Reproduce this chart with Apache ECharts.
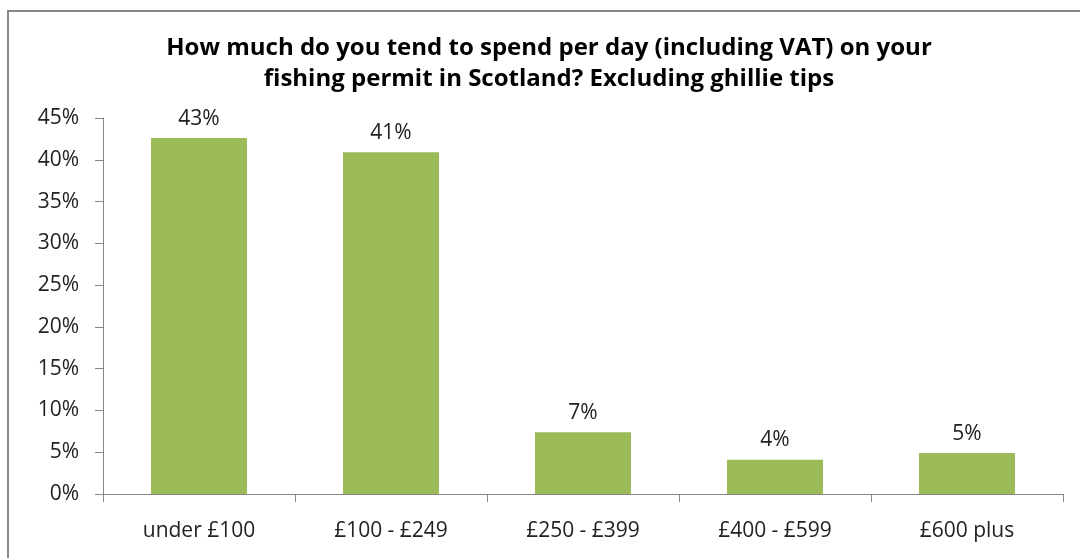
<!DOCTYPE html>
<html>
<head>
<meta charset="utf-8">
<script src="https://cdn.jsdelivr.net/npm/echarts@6/dist/echarts.min.js"></script>
<style>
  html, body { margin: 0; padding: 0; background: #ffffff; }
  #chart { width: 1080px; height: 558px; }
</style>
</head>
<body>
<div id="chart"></div>
<script>
// Daily permit spend bands and share of respondents (%)
const categories = ['under £100', '£100 - £249', '£250 - £399', '£400 - £599', '£600 plus'];
const shares = [42.6, 40.9, 7.4, 4.1, 4.9];
const titleLines = [
  'How much do you tend to spend per day (including VAT) on your',
  'fishing permit in Scotland? Excluding ghillie tips'
];

const FONT = '"Open Sans", Lato, sans-serif';
const AXIS_GREY = '#868686';

const chart = echarts.init(document.getElementById('chart'), null, { renderer: 'canvas' });

chart.setOption({
  animation: false,
  backgroundColor: '#ffffff',
  title: {
    text: titleLines.join('\n'),
    left: 544,
    top: 28,
    textAlign: 'center',
    textStyle: {
      fontFamily: FONT,
      fontSize: 24,
      fontWeight: 'bold',
      color: '#000000',
      lineHeight: 31
    }
  },
  graphic: [{
    type: 'rect',
    silent: true,
    shape: { x: 8, y: 11, width: 1100, height: 600 },
    style: { fill: 'none', stroke: AXIS_GREY, lineWidth: 2 }
  }],
  grid: { left: 103, top: 118, right: 17, bottom: 64 },
  xAxis: {
    type: 'category',
    data: categories,
    axisLine: { show: true, lineStyle: { color: AXIS_GREY, width: 1 } },
    axisTick: { show: true, alignWithLabel: false, length: 8, lineStyle: { color: AXIS_GREY } },
    axisLabel: { color: '#222222', fontFamily: FONT, fontSize: 21, margin: 27 },
    splitLine: { show: false }
  },
  yAxis: {
    type: 'value',
    min: 0,
    max: 45,
    interval: 5,
    axisLine: { show: true, lineStyle: { color: AXIS_GREY, width: 1 } },
    axisTick: { show: true, length: 8, lineStyle: { color: AXIS_GREY } },
    axisLabel: { color: '#222222', fontFamily: FONT, fontSize: 21, margin: 24, formatter: '{value}%' },
    splitLine: { show: false }
  },
  series: [{
    type: 'bar',
    data: shares,
    barWidth: '50%',
    itemStyle: { color: '#9BBB59' },
    label: {
      show: true,
      position: 'top',
      distance: 9,
      color: '#222222',
      fontFamily: FONT,
      fontSize: 21,
      formatter: p => Math.round(p.value) + '%'
    }
  }]
});
</script>
</body>
</html>
